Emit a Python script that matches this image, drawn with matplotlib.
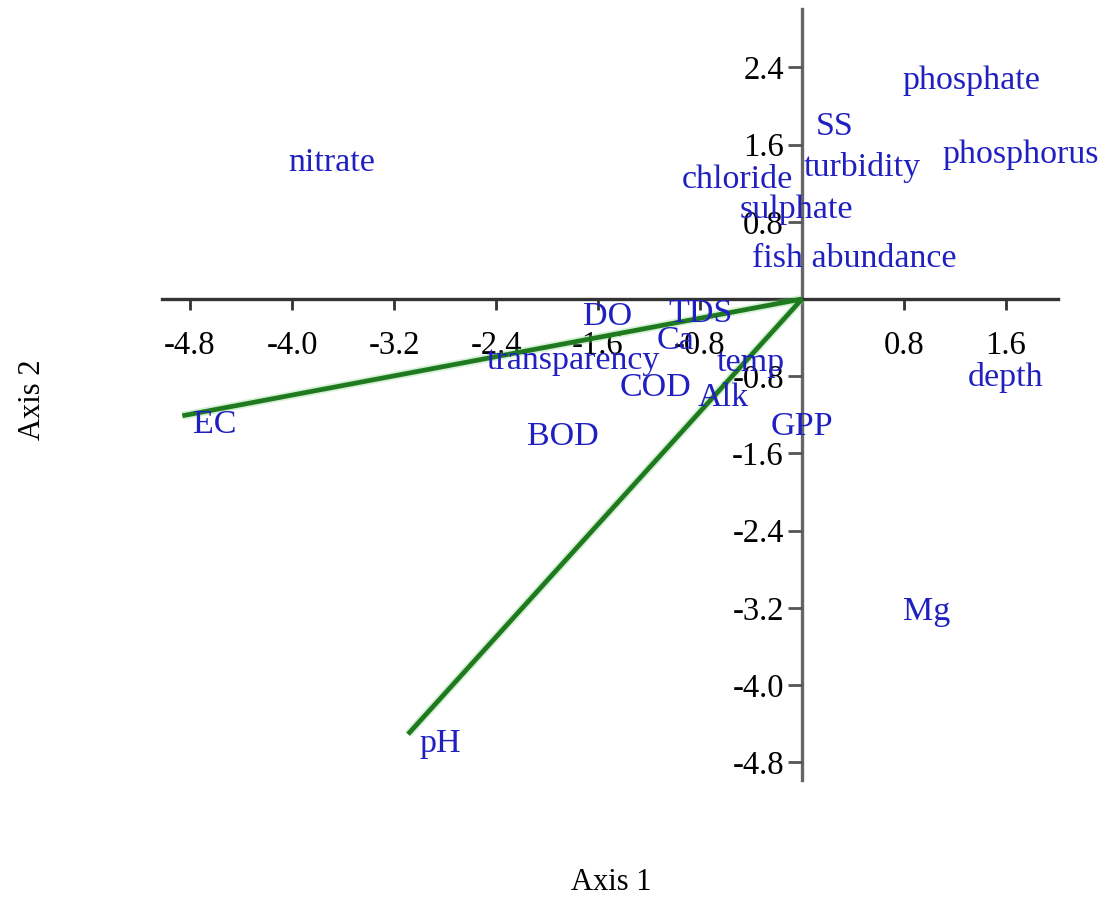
import matplotlib
matplotlib.use("Agg")
import matplotlib.pyplot as plt

# Variable labels and their positions (Axis 1, Axis 2)
labels = ["nitrate", "phosphate", "SS", "phosphorus", "turbidity", "chloride",
          "sulphate", "fish abundance", "DO", "TDS", "Ca", "transparency",
          "temp", "COD", "Alk", "depth", "EC", "BOD", "GPP", "Mg", "pH"]
axis1 = [-4.03, 0.79, 0.11, 1.10, 0.01, -0.94, -0.49, -0.39, -1.72, -1.05, -1.14,
         -2.47, -0.67, -1.43, -0.82, 1.30, -4.78, -2.16, -0.25, 0.79, -3.00]
axis2 = [1.57, 2.42, 1.94, 1.65, 1.52, 1.39, 1.08, 0.58, -0.03, 0.0, -0.27,
         -0.48, -0.50, -0.76, -0.87, -0.65, -1.15, -1.27, -1.17, -3.08, -4.45]

# Vectors drawn from origin
vec_names = ["EC", "pH"]
vec_x = [-4.86, -3.09]
vec_y = [-1.21, -4.51]

xticks = [-4.8, -4.0, -3.2, -2.4, -1.6, -0.8, 0.8, 1.6]
yticks = [2.4, 1.6, 0.8, -0.8, -1.6, -2.4, -3.2, -4.0, -4.8]

W, H = 1102, 902
fig = plt.figure(figsize=(W / 100, H / 100), dpi=100)
xmin, xmax = -5.1, 2.1
ymin, ymax = -5.1, 3.05
sx, sy = 127.5, 96.5
left_px = 802 - (0 - xmin) * sx
top_px = 299 - ymax * sy
ax = fig.add_axes([left_px / W, 1 - (top_px + (ymax - ymin) * sy) / H,
                   (xmax - xmin) * sx / W, (ymax - ymin) * sy / H])
ax.set_xlim(xmin, xmax)
ax.set_ylim(ymin, ymax)

serif = "Liberation Serif"
for s in ["top", "right"]:
    ax.spines[s].set_visible(False)
ax.spines["bottom"].set_position(("data", 0))
ax.spines["left"].set_position(("data", 0))
ax.spines["bottom"].set_bounds(-5.02, 2.01)
ax.spines["left"].set_bounds(-4.98, 3.0)
ax.spines["bottom"].set_linewidth(2.4)
ax.spines["bottom"].set_color("#333333")
ax.spines["left"].set_linewidth(2.4)
ax.spines["left"].set_color("#666666")
ax.spines["bottom"].set_zorder(1)
ax.spines["left"].set_zorder(1)

ax.set_xticks(xticks)
ax.set_xticklabels([f"{v:.1f}" for v in xticks], fontfamily=serif, fontsize=23.5)
ax.set_yticks(yticks)
ax.set_yticklabels([f"{v:.1f}" for v in yticks], fontfamily=serif, fontsize=23.5)
ax.tick_params(axis="x", direction="out", length=8, width=2, color="#333333", pad=15)
ax.tick_params(axis="y", direction="out", length=10, width=2, color="#555555", pad=3)

for nx, ny in zip(vec_x, vec_y):
    ax.plot([0, nx], [0, ny], color="#7ad07a", lw=6, alpha=0.3, solid_capstyle="butt", zorder=2)
    ax.plot([0, nx], [0, ny], color="#1f7a1f", lw=3.4, solid_capstyle="butt", zorder=3)

for lab, x, y in zip(labels, axis1, axis2):
    ax.text(x, y, lab, ha="left", va="top", color="#2020c0", fontfamily=serif,
            fontsize=24.5, zorder=4)

fig.text(611 / W, 1 - 883 / H, "Axis 1", ha="center", va="center", fontfamily=serif, fontsize=22)
fig.text(33 / W, 1 - 400 / H, "Axis 2", ha="center", va="center", rotation=90,
         fontfamily=serif, fontsize=22)

fig.savefig("out.png", dpi=100)
